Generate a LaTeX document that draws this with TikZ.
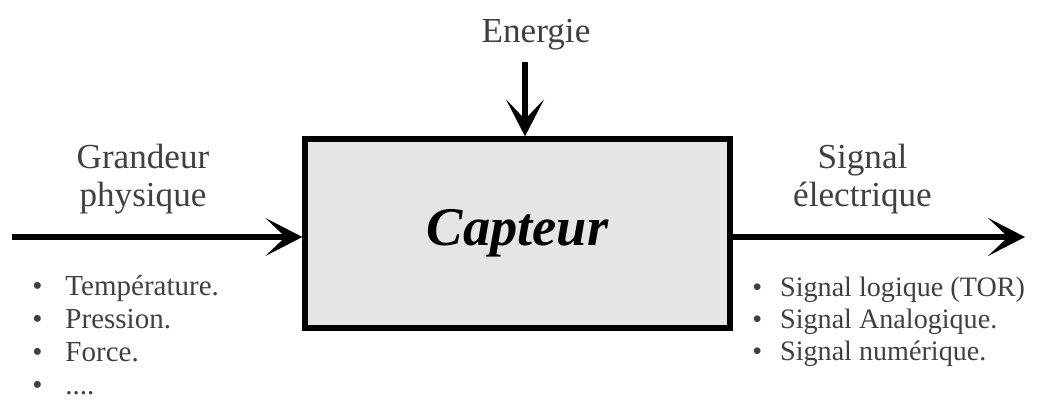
\documentclass[tikz,border=0pt]{standalone}
\usepackage{fontspec}
\setmainfont{Liberation Serif}
\usetikzlibrary{arrows.meta, positioning}
\tikzset{
	bloc/.style={draw, line width=3pt, fill=black!10, minimum width=8.5cm, minimum height=3.78cm, font=\fontsize{31}{36}\selectfont\bfseries\itshape},
	etiquette/.style={align=center, text=black!75, inner sep=0pt, font=\fontsize{20}{21.6}\selectfont},
	liste/.style={align=left, text=black!75, anchor=north west, inner sep=0pt},
}

\begin{document}
\begin{tikzpicture}
		\useasboundingbox (0,0) rectangle (20.76,8.12);
		\node (capteur) [bloc] at (10.35,3.45) {Capteur};
		\node (energie) [etiquette] at (10.72,7.42) {Energie};
		\node (grandeur) [etiquette] at (2.86,4.54) {Grandeur\\physique};
		\node (signal) [etiquette] at (17.25,4.54) {Signal\\électrique};
		
		\node (mesures) [liste, font=\fontsize{16.5}{18.8}\selectfont] at (0.64,2.62) {%
			\textbullet\hspace{0.46cm}Température.\\
			\textbullet\hspace{0.46cm}Pression.\\
			\textbullet\hspace{0.46cm}Force.\\
			\textbullet\hspace{0.46cm}....};
		\node (sorties) [liste, font=\fontsize{16}{18.2}\selectfont] at (15.04,2.58) {%
			\textbullet\hspace{0.36cm}Signal logique (TOR)\\
			\textbullet\hspace{0.36cm}Signal Analogique.\\
			\textbullet\hspace{0.36cm}Signal numérique.};
		
		\coordinate (entree) at (0.24,3.38);
		\coordinate (sortie) at (20.5,3.38);
		\coordinate (source) at (10.5,6.88);
		
		\begin{scope}[line width=3.5pt, black, -{Stealth[length=0.74cm, width=0.76cm, inset=0.4cm]}]
			\draw (entree) -- (entree -| capteur.west);
			\draw (capteur.east |- sortie) -- (sortie);
			\draw (source) -- (source |- capteur.north);
		\end{scope}
	\end{tikzpicture}
\end{document}
